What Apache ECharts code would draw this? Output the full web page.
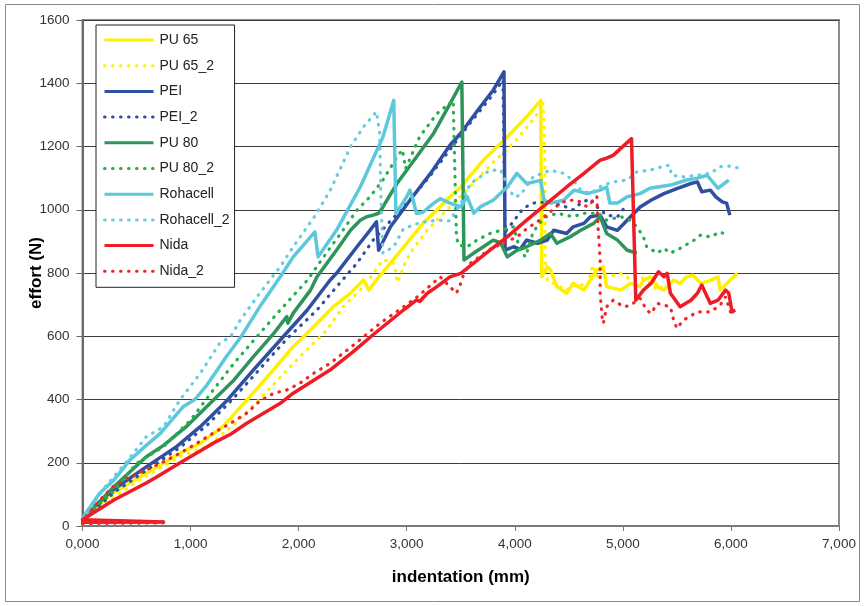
<!DOCTYPE html>
<html>
<head>
<meta charset="utf-8">
<script src="https://cdn.jsdelivr.net/npm/echarts@6/dist/echarts.min.js"></script>
<style>
html,body{margin:0;padding:0;background:#fff;}
#chart{width:864px;height:606px;}
</style>
</head>
<body>
<div id="chart"></div>
<script>
// ---- data (x: indentation mm, y: effort N) ----
var seriesNames = ['PU 65', 'PU 65_2', 'PEI', 'PEI_2', 'PU 80', 'PU 80_2', 'Rohacell', 'Rohacell_2', 'Nida', 'Nida_2'];

var pu65 = [[0,20],[0.04,35],[0.28,104],[0.59,167],[0.90,230],[1.09,262],[1.30,314],[1.52,398],[1.74,483],[1.95,567],[2.14,630],[2.32,693],[2.48,736],[2.60,778],[2.65,746],[2.72,778],[2.85,831],[3.0,894],[3.15,957],[3.28,999],[3.40,1041],[3.50,1072],[3.71,1157],[3.93,1230],[4.11,1294],[4.24,1346],[4.25,788],[4.30,820],[4.33,810],[4.39,757],[4.48,736],[4.54,767],[4.64,746],[4.70,778],[4.76,809],[4.82,820],[4.85,757],[4.98,746],[5.07,767],[5.16,757],[5.19,778],[5.26,788],[5.32,757],[5.38,746],[5.47,778],[5.53,767],[5.59,788],[5.65,793],[5.72,767],[5.80,775],[5.88,788],[5.90,746],[6.06,799]];

var pu65_2 = [[0,12],[0.75,12],[0,16],[0.2,70],[0.5,140],[0.90,219],[1.15,251],[1.40,320],[1.58,380],[1.83,470],[2.01,535],[2.26,619],[2.41,693],[2.60,757],[2.78,841],[2.87,835],[2.89,820],[2.91,770],[2.94,788],[2.97,820],[3.03,862],[3.19,935],[3.34,989],[3.55,1060],[3.80,1150],[4.00,1215],[4.14,1273],[4.21,1304],[4.26,1341],[4.28,1157],[4.28,841],[4.30,778],[4.36,767],[4.48,746],[4.58,767],[4.67,757],[4.72,825],[4.76,790],[4.85,788],[4.98,799],[5.07,780],[5.16,788],[5.25,770],[5.32,746],[5.40,760]];

var pei = [[0,20],[0.04,40],[0.28,114],[0.59,187],[0.87,251],[1.09,314],[1.34,398],[1.58,493],[1.83,588],[2.08,683],[2.29,777],[2.35,799],[2.54,883],[2.66,935],[2.72,962],[2.74,872],[2.85,946],[3.03,1030],[3.22,1115],[3.40,1204],[3.50,1242],[3.68,1325],[3.80,1378],[3.90,1436],[3.91,872],[3.99,883],[4.05,875],[4.11,904],[4.21,894],[4.30,904],[4.36,935],[4.48,925],[4.54,946],[4.64,957],[4.70,978],[4.79,983],[4.85,946],[4.95,935],[5.04,967],[5.16,1009],[5.26,1030],[5.38,1051],[5.50,1067],[5.63,1083],[5.69,1088],[5.73,1057],[5.81,1062],[5.86,1041],[5.92,1025],[5.96,1021],[5.99,983]];

var pei_2 = [[0,12],[0.75,13],[0,18],[0.3,108],[0.6,178],[0.9,248],[1.15,318],[1.40,405],[1.65,500],[1.90,595],[2.17,683],[2.35,756],[2.54,831],[2.69,904],[2.81,950],[3.0,1020],[3.2,1100],[3.4,1190],[3.6,1280],[3.8,1365],[3.89,1410],[3.91,930],[3.98,960],[4.08,1005],[4.17,1021],[4.30,1025],[4.45,1012],[4.54,1000],[4.61,1021],[4.70,1035],[4.76,1009],[4.85,983],[4.95,978],[5.01,1004]];

var pu80 = [[0,20],[0.04,35],[0.29,124],[0.59,219],[0.75,255],[0.96,314],[1.21,398],[1.40,461],[1.58,535],[1.77,609],[1.89,662],[1.90,641],[1.95,673],[2.11,746],[2.17,788],[2.35,872],[2.48,935],[2.57,967],[2.63,978],[2.69,983],[2.74,989],[2.78,1009],[2.91,1083],[3.0,1125],[3.09,1167],[3.25,1242],[3.40,1335],[3.51,1404],[3.53,841],[3.62,863],[3.71,883],[3.80,904],[3.87,895],[3.93,851],[4.02,872],[4.11,883],[4.24,904],[4.33,925],[4.39,894],[4.51,914],[4.61,935],[4.73,957],[4.79,978],[4.85,925],[4.95,904],[5.04,872],[5.13,863]];

var pu80_2 = [[0,20],[0.29,110],[0.50,198],[0.75,251],[1.0,335],[1.21,430],[1.40,514],[1.64,609],[1.83,683],[2.08,777],[2.26,865],[2.41,935],[2.54,999],[2.66,1041],[2.78,1094],[2.91,1167],[2.96,1190],[2.99,1130],[3.12,1231],[3.28,1304],[3.43,1346],[3.46,914],[3.48,888],[3.56,883],[3.65,904],[3.77,925],[3.87,935],[3.99,946],[4.05,870],[4.10,851],[4.17,930],[4.27,975],[4.39,989],[4.54,978],[4.64,989],[4.76,989],[4.85,967],[4.98,978],[5.07,967],[5.13,946],[5.19,914],[5.22,883],[5.32,863],[5.38,878],[5.44,863],[5.53,878],[5.66,904],[5.72,920],[5.81,914],[5.90,930],[5.96,920]];

var rohacell = [[0,25],[0.01,29],[0.16,104],[0.29,145],[0.44,209],[0.59,255],[0.72,293],[0.93,377],[1.04,400],[1.15,445],[1.34,540],[1.46,595],[1.64,693],[1.83,788],[1.95,851],[2.11,914],[2.15,930],[2.18,851],[2.35,935],[2.57,1072],[2.78,1230],[2.88,1346],[2.90,989],[2.94,1009],[3.0,1041],[3.03,1062],[3.06,1030],[3.09,988],[3.15,992],[3.25,1021],[3.31,1035],[3.40,1021],[3.50,1009],[3.56,1041],[3.62,989],[3.68,1009],[3.80,1030],[3.93,1072],[4.02,1115],[4.11,1083],[4.24,1093],[4.27,1030],[4.33,1021],[4.45,1030],[4.55,1062],[4.67,1051],[4.79,1062],[4.85,1072],[4.88,1021],[4.95,1021],[5.04,1041],[5.16,1051],[5.25,1068],[5.44,1078],[5.59,1094],[5.69,1100],[5.78,1109],[5.88,1068],[5.98,1094]];

var rohacell_2 = [[0,20],[0.2,120],[0.4,200],[0.59,282],[0.75,314],[0.90,398],[1.09,483],[1.27,578],[1.37,598],[1.46,651],[1.64,736],[1.83,820],[1.95,883],[2.14,975],[2.29,1060],[2.48,1199],[2.60,1262],[2.72,1310],[2.75,1242],[2.76,1052],[2.78,863],[2.88,883],[2.97,940],[3.13,960],[3.28,967],[3.40,965],[3.50,1020],[3.59,1083],[3.68,1104],[3.77,1125],[3.87,1125],[3.93,1080],[3.99,1041],[4.05,1045],[4.17,1104],[4.33,1125],[4.45,1115],[4.55,1090],[4.61,1062],[4.70,1051],[4.80,1075],[4.91,1088],[5.04,1094],[5.13,1120],[5.25,1125],[5.38,1138],[5.43,1141],[5.45,1109],[5.56,1104],[5.69,1109],[5.81,1115],[5.90,1136],[5.99,1138],[6.07,1132]];

var nida = [[0,12],[0.75,13],[0.75,19],[0,20],[0.29,82],[0.59,136],[0.69,156],[0.90,199],[1.21,262],[1.37,290],[1.52,325],[1.83,388],[1.95,420],[2.14,461],[2.29,493],[2.5,550],[2.7,608],[2.97,683],[3.09,714],[3.12,710],[3.19,736],[3.28,757],[3.40,788],[3.50,799],[3.62,831],[3.77,872],[3.93,914],[4.11,967],[4.30,1021],[4.48,1072],[4.64,1115],[4.79,1157],[4.85,1163],[4.91,1172],[5.08,1225],[5.12,714],[5.19,746],[5.26,767],[5.33,804],[5.38,788],[5.41,799],[5.44,736],[5.53,693],[5.63,714],[5.69,736],[5.73,762],[5.78,725],[5.81,704],[5.88,714],[5.95,746],[5.98,736],[6.01,677],[6.04,683]];

var nida_2 = [[0,8],[0.75,10],[0,16],[0.16,82],[0.28,124],[0.44,156],[0.59,177],[0.75,203],[0.90,230],[1.06,262],[1.21,294],[1.37,325],[1.52,357],[1.64,395],[1.77,420],[1.89,430],[2.01,451],[2.14,483],[2.29,514],[2.5,570],[2.75,640],[2.97,693],[3.10,725],[3.31,788],[3.43,746],[3.46,736],[3.50,767],[3.53,799],[3.59,831],[3.77,875],[4.02,914],[4.11,940],[4.20,960],[4.30,985],[4.42,1021],[4.50,1030],[4.58,1030],[4.67,1009],[4.76,1041],[4.77,946],[4.79,841],[4.79,736],[4.81,651],[4.82,641],[4.85,693],[4.91,714],[5.01,693],[5.07,698],[5.16,720],[5.22,683],[5.26,672],[5.32,704],[5.44,693],[5.47,651],[5.50,625],[5.56,651],[5.69,677],[5.81,677],[5.90,698],[5.95,725],[6.0,672]];

var seriesData = [pu65, pu65_2, pei, pei_2, pu80, pu80_2, rohacell, rohacell_2, nida, nida_2];
var seriesColors = ['#FFF000', '#FFF000', '#2F4FA0', '#3050A8', '#2E955A', '#22B04E', '#5CC8DC', '#66CCE0', '#EE1C24', '#F02626'];
var seriesDotted = [false, true, false, true, false, true, false, true, false, true];

var xTicks = { min: 0, max: 7, interval: 1 };
var yTicks = { min: 0, max: 1600, interval: 200 };

// ---- chart ----
var chart = echarts.init(document.getElementById('chart'), null, { renderer: 'canvas' });
var FONT = '"Liberation Sans", Arial, sans-serif';

var series = seriesNames.map(function (name, i) {
  return {
    name: name,
    type: 'line',
    data: seriesData[i],
    symbol: 'none',
    showSymbol: false,
    smooth: false,
    clip: true,
    animation: false,
    color: seriesColors[i],
    lineStyle: seriesDotted[i]
      ? { width: 3.2, color: seriesColors[i], type: [0.6, 7.4], cap: 'round' }
      : { width: 3.5, color: seriesColors[i], type: 'solid', join: 'round' }
  };
});

chart.setOption({
  animation: false,
  backgroundColor: '#fff',
  graphic: [{
    type: 'rect',
    shape: { x: 5.5, y: 4.5, width: 854, height: 597 },
    style: { fill: 'none', stroke: '#8a8a8a', lineWidth: 1 },
    silent: true, z: -10
  }],
  grid: {
    left: 82.5, right: 25, top: 20, bottom: 80,
    show: true, borderColor: '#8c8c8c', borderWidth: 2, backgroundColor: '#fff'
  },
  legend: {
    data: seriesNames,
    orient: 'vertical',
    left: 96, top: 25,
    backgroundColor: '#fff',
    borderColor: '#222', borderWidth: 1, borderRadius: 0,
    padding: [8, 5, 9, 7],
    itemWidth: 49, itemHeight: 12, itemGap: 11.7,
    itemStyle: { opacity: 0 },
    lineStyle: { width: 3 },
    textStyle: { fontFamily: FONT, fontSize: 14, color: '#222', padding: [0, 0, 0, 1] },
    selectedMode: false
  },
  xAxis: {
    type: 'value',
    min: xTicks.min, max: xTicks.max, interval: xTicks.interval,
    name: 'indentation (mm)',
    nameLocation: 'middle', nameGap: 43, nameMoveOverlap: false,
    nameTextStyle: { fontFamily: FONT, fontSize: 17, fontWeight: 'bold', color: '#000' },
    axisLine: { show: true, onZero: false, lineStyle: { color: '#7a7a7a', width: 2 } },
    axisTick: { show: true, length: 5, lineStyle: { color: '#7a7a7a', width: 1 } },
    axisLabel: {
      margin: 11, fontFamily: FONT, fontSize: 13.5, color: '#333',
      formatter: function (v) { return v.toFixed(3).replace('.', ','); }
    },
    splitLine: { show: false }
  },
  yAxis: {
    type: 'value',
    min: yTicks.min, max: yTicks.max, interval: yTicks.interval,
    name: 'effort (N)',
    nameLocation: 'middle', nameGap: 38, nameMoveOverlap: false,
    nameTextStyle: { fontFamily: FONT, fontSize: 17, fontWeight: 'bold', color: '#000' },
    axisLine: { show: true, onZero: false, lineStyle: { color: '#6a6a6a', width: 2 } },
    axisTick: { show: true, length: 6, lineStyle: { color: '#6a6a6a', width: 1 } },
    axisLabel: {
      margin: 13, fontFamily: FONT, fontSize: 13.5, color: '#333',
      formatter: function (v) { return String(v); }
    },
    splitLine: { show: true, lineStyle: { color: '#3c3c3c', width: 1 } }
  },
  series: series
});
</script>
</body>
</html>
